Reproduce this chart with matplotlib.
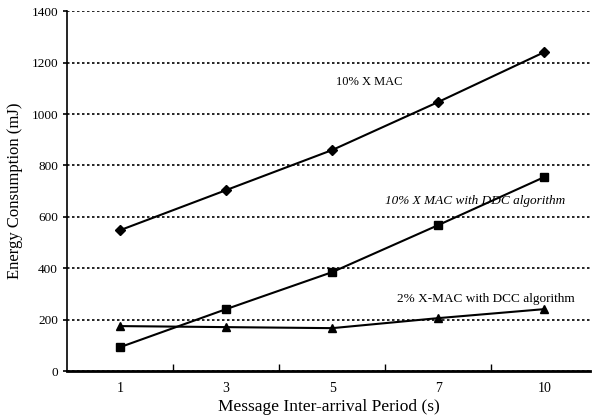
import matplotlib.pyplot as plt
import numpy as np

# data
periods = ["1", "3", "5", "7", "10"]
xmac_10 = [548, 704, 860, 1047, 1241]
xmac_10_ddc = [93, 241, 385, 568, 755]
xmac_2_dcc = [175, 171, 167, 206, 241]

plt.rcParams["font.family"] = ["Liberation Serif", "DejaVu Serif"]

fig = plt.figure(figsize=(5.95, 4.16), dpi=100)
ax = fig.add_axes([0.1126, 0.108, 0.879, 0.865])

x = np.arange(len(periods))
ax.plot(x, xmac_10, color="black", lw=1.5, marker="D", ms=5)
ax.plot(x, xmac_10_ddc, color="black", lw=1.5, marker="s", ms=6)
ax.plot(x, xmac_2_dcc, color="black", lw=1.5, marker="^", ms=6)

ax.text(2.35, 1125, "10% X MAC", fontsize=9, ha="center", va="center")
ax.text(3.35, 660, "10% X MAC with DDC algorithm", fontsize=9.5, style="italic",
        ha="center", va="center")
ax.text(3.45, 280, "2% X-MAC with DCC algorithm", fontsize=9.5,
        ha="center", va="center")

ax.set_xlim(-0.5, 4.43)
ax.set_ylim(0, 1400)
ax.set_yticks(range(0, 1401, 200))
ax.set_xticks(x)
ax.set_xticklabels(periods)
ax.set_xticks(x[:-1] + 0.5, minor=True)
ax.tick_params(axis="x", which="major", length=0, pad=8, labelsize=10)
ax.tick_params(axis="x", which="minor", direction="in", length=5, width=1)
ax.tick_params(axis="y", length=3, width=1.2, labelsize=9.5)

ax.yaxis.grid(True, linestyle=(0, (1.5, 1.5)), color="black", lw=1.2)
for s in ["top", "right"]:
    ax.spines[s].set_visible(False)
ax.spines["left"].set_linewidth(1.2)
ax.spines["bottom"].set_linewidth(2)

ax.set_xlabel("Message Inter-arrival Period (s)", fontsize=12.5, labelpad=3)
ax.set_ylabel("Energy Consumption (mJ)", fontsize=12, labelpad=6)

fig.savefig("out.png", dpi=100)
